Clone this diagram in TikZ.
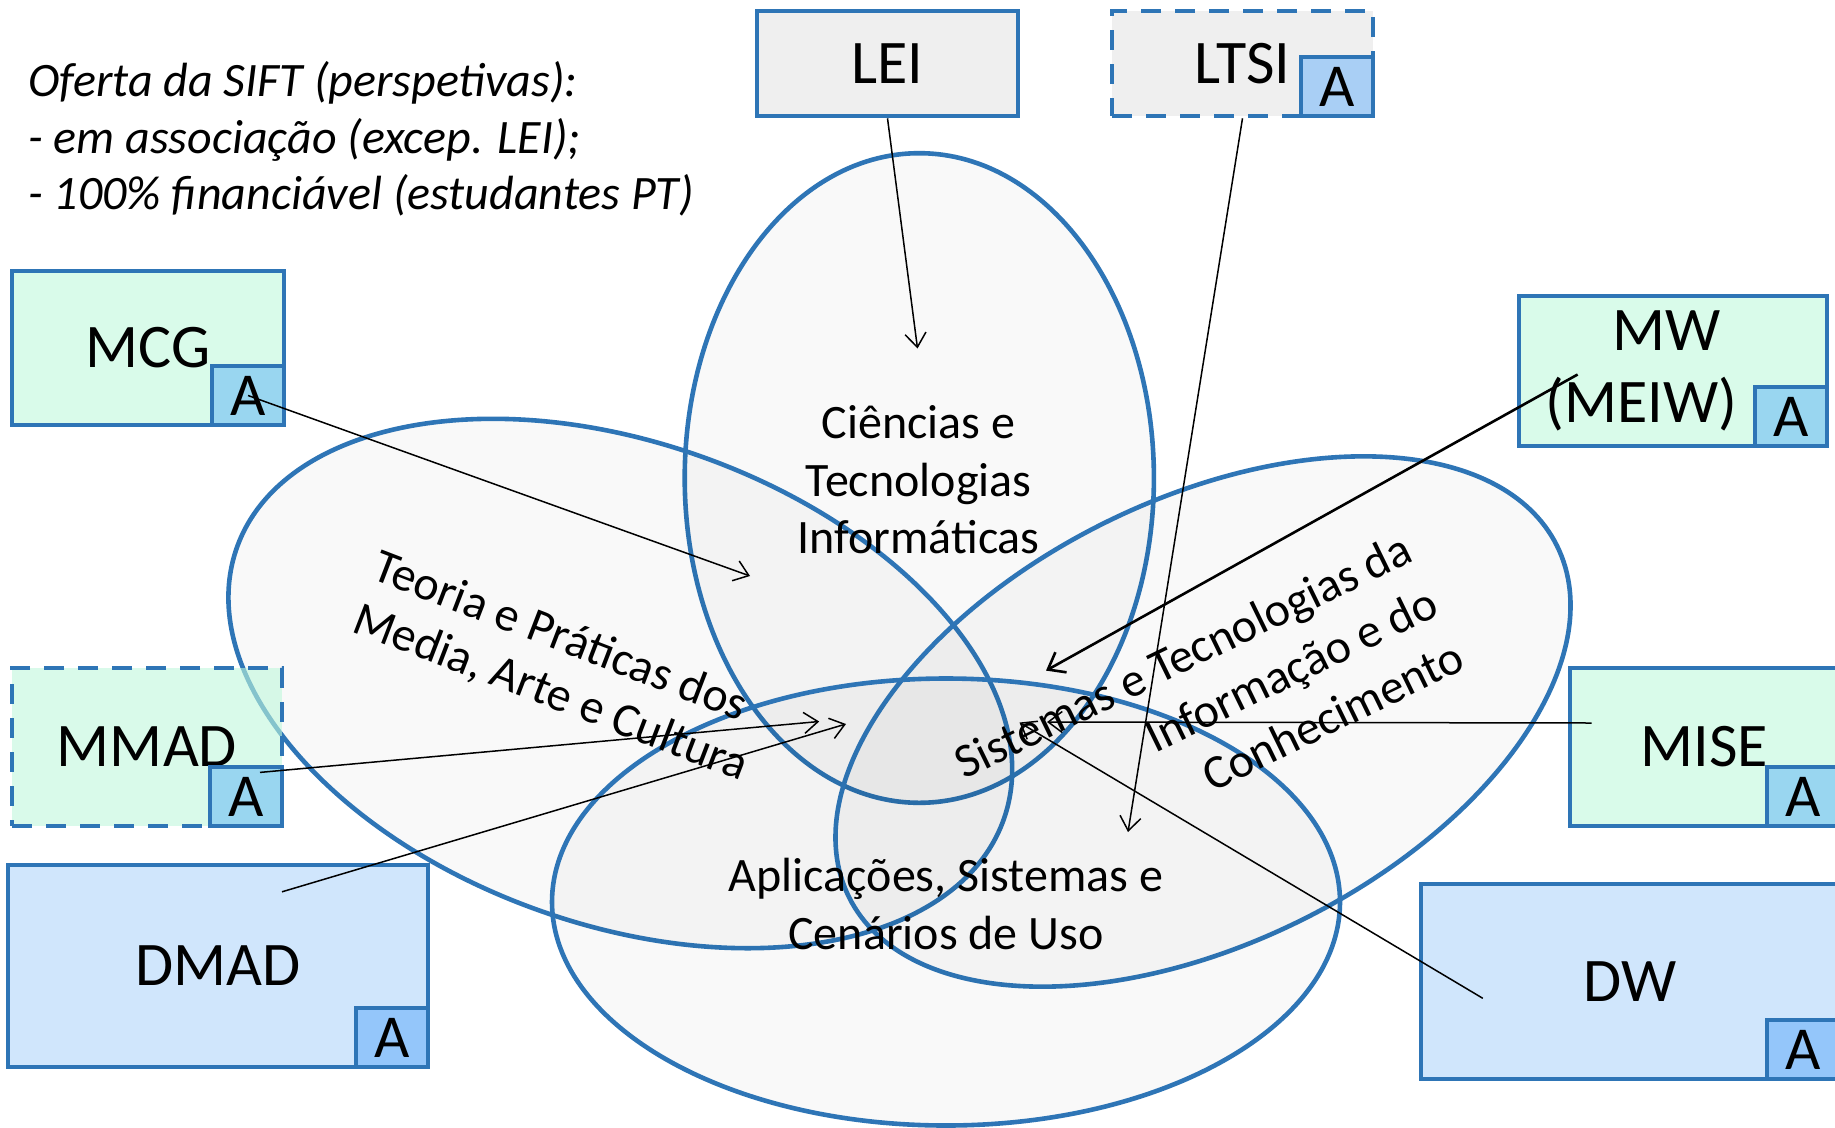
\documentclass[tikz,border=0pt]{standalone}
\usepackage{fontspec}
\setmainfont{Carlito}
\usetikzlibrary{arrows.meta}
\definecolor{bl}{HTML}{2E75B6}
\definecolor{boxgray}{HTML}{EFEFEF}
\definecolor{mint}{HTML}{D9FBEA}
\definecolor{mintT}{HTML}{C0F8DC}
\definecolor{lblue}{HTML}{D0E6FC}
\definecolor{aboxm}{HTML}{99D6F0}
\definecolor{aboxb}{HTML}{94C6FA}
\definecolor{aboxg}{HTML}{A9CFF5}
\begin{document}
\begin{tikzpicture}[x=1pt,y=-1pt,
  box/.style={draw=bl, line width=4.6pt, inner sep=0pt, font=\fontsize{62}{74}\selectfont},
  dbox/.style={box, dash pattern=on 20pt off 14pt},
  abox/.style={draw=bl, line width=4.6pt, inner sep=0pt, minimum width=72pt, minimum height=59pt, anchor=south east, font=\fontsize{61}{72}\selectfont},
  ell/.style={draw=bl, line width=4.6pt, fill=black, fill opacity=0.024},
  etext/.style={font=\fontsize{48}{57.5}\selectfont, inner sep=0pt, align=center},
  arr/.style={line width=1.5pt, -{Straight Barb[length=14pt,width=21pt]}},
  arrb/.style={line width=2.6pt, -{Straight Barb[length=15pt,width=23pt]}},
]
\useasboundingbox (0,0) rectangle (1835,1127);
\clip (0,0) rectangle (1835,1127);
\fill[white] (0,0) rectangle (1835,1127);

% ellipses
\draw[ell] (919.3,478) ellipse [x radius=234.6pt, y radius=324.8pt];
\draw[ell, rotate around={-19.5:(620.3,683.5)}] (620.3,683.5) ellipse [x radius=406.8pt, y radius=241pt];
\draw[ell, rotate around={26.4:(1203,721.5)}] (1203,721.5) ellipse [x radius=395.2pt, y radius=221.7pt];
\draw[ell] (946,902) ellipse [x radius=394pt, y radius=223.5pt];

% ellipse texts
\node[etext] (cti) at (918.7,480) {Ciências e\\Tecnologias\\Informáticas};
\node[etext] (asc) at (946,904) {Aplicações, Sistemas e\\Cenários de Uso};
\node[etext, align=left, rotate=-21, font=\fontsize{48}{56}\selectfont] (tpm) at (560.6,667.3) {Teoria e Práticas dos\\Media, Arte e Cultura};
\node[etext, align=right, rotate=26, font=\fontsize{48}{60}\selectfont] (sti) at (1209,709) {Sistemas e Tecnologias da\\Informação e do\\Conhecimento};

% heading text
\node[anchor=west, inner sep=0pt, align=left, font=\fontsize{48}{56.5}\selectfont\itshape] (oferta) at (28,139)
  {Oferta da SIFT (perspetivas):\\- em associação (excep. LEI);\\- 100\% financiável (estudantes PT)};

% boxes
\node[box, fill=boxgray, minimum width=261pt, minimum height=105pt] (lei) at (887.5,63.5) {LEI};
\node[dbox, fill=boxgray, minimum width=261pt, minimum height=105pt] (ltsi) at (1242.5,63.5) {LTSI};
\node[abox, fill=aboxg] (ltsiA) at (ltsi.south east) {A};

\node[box, fill=mint, minimum width=272pt, minimum height=154pt] (mcg) at (148,348) {MCG};
\node[abox, fill=aboxm] (mcgA) at (mcg.south east) {A};

\node[box, fill=mint, minimum width=308pt, minimum height=150pt, align=center, font=\fontsize{62}{72}\selectfont] (mw) at (1673,371) {\hspace*{-12pt}MW\\(MEIW)\hspace*{63pt}};
\node[abox, fill=aboxm] (mwA) at (mw.south east) {A};

\node[dbox, fill=mintT, fill opacity=0.6, text opacity=1, minimum width=270pt, minimum height=158pt] (mmad) at (147,747) {MMAD};
\node[abox, fill=aboxm] (mmadA) at (mmad.south east) {A};

\node[box, fill=lblue, minimum width=420pt, minimum height=202pt] (dmad) at (218,966) {DMAD};
\node[abox, fill=aboxb] (dmadA) at (dmad.south east) {A};

\node[box, fill=mint, minimum width=269pt, minimum height=158pt] (mise) at (1704.5,747) {MISE};
\node[abox, fill=aboxm] (miseA) at (mise.south east) {A};

\node[box, fill=lblue, minimum width=418pt, minimum height=195pt] (dw) at (1630,981.5) {DW};
\node[abox, fill=aboxb] (dwA) at (dw.south east) {A};

% connector ends
\coordinate (leiE) at (917.5,348.5);
\coordinate (ltsiE) at (1128,832);
\coordinate (mcgE) at (750,576);
\coordinate (mwS) at (1577.6,374.5);
\coordinate (mwE) at (1046,670.6);
\coordinate (mmadS) at (260,772.4);
\coordinate (mmadE) at (819.2,721.5);
\coordinate (dmadS) at (282,891.8);
\coordinate (dmadE) at (846,724);
\coordinate (miseS) at (1591.6,723);
\coordinate (miseE) at (1047,722);
\coordinate (dwS) at (1482.8,998.3);
\coordinate (dwE) at (1019.5,722.5);

\draw[arr] (lei.south) -- (leiE);
\draw[arr] (ltsi.south) -- (ltsiE);
\draw[arr] (mcgA.center) -- (mcgE);
\draw[arrb] (mwS) -- (mwE);
\draw[arr] (mmadS) -- (mmadE);
\draw[arr] (dmadS) -- (dmadE);
\draw[arr] (miseS) -- (miseE);
\draw[arr] (dwS) -- (dwE);
\end{tikzpicture}
\end{document}
